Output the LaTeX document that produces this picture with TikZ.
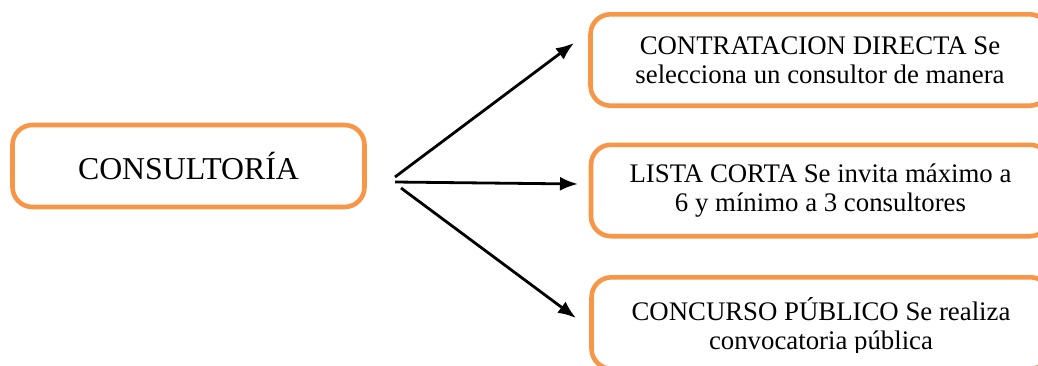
\documentclass[tikz,border=0pt]{standalone}
\usepackage{fontspec}
\setmainfont{Liberation Serif}
\usetikzlibrary{arrows.meta}
\definecolor{boxorange}{RGB}{247,150,70}
\tikzset{
  rbox/.style={draw=boxorange, line width=2.3pt, rounded corners=10pt, fill=white,
    inner sep=0pt, align=center},
  leftbox/.style={rbox, minimum width=176pt, minimum height=41pt,
    font=\fontsize{15.9pt}{18pt}\selectfont},
  rightbox/.style={rbox, minimum width=229.5pt, minimum height=45.7pt,
    font=\fontsize{13.4pt}{14.6pt}\selectfont},
  rtext/.style={inner sep=0pt, align=center, font=\fontsize{13.4pt}{14.6pt}\selectfont},
  conn/.style={line width=1.4pt, -{Latex[length=9pt,width=7pt]}}
}
\begin{document}
\begin{tikzpicture}[x=0.5pt, y=-0.5pt]
  \useasboundingbox (0,0) rectangle (1038,365);

  % source box
  \node[leftbox] (cons) at (188.5,166) {CONSULTORÍA};

  % the three procedures
  \node[rightbox] (c1) at (820,60) {CONTRATACION DIRECTA Se\\selecciona un consultor de manera};
  \node[rightbox] (c2) at (820.5,190.5) {LISTA CORTA Se invita máximo a\\6 y mínimo a 3 consultores};
  \node[rightbox] (c3) at (821,323) {};
  \begin{scope}
    \clip (560,260) rectangle (1038,352);
    \node[rtext] (c3t) at ([yshift=-1.5pt]c3.center) {CONCURSO PÚBLICO Se realiza\\convocatoria pública};
  \end{scope}

  % arrow ends
  \coordinate (s1) at (395,177);
  \coordinate (s2) at (395,182);
  \coordinate (s3) at (401,188);
  \coordinate (e1) at (574,43);
  \coordinate (e2) at (578,184);
  \coordinate (e3) at (576,318);

  \draw[conn] (s1) -- (e1);
  \draw[conn] (s2) -- (e2);
  \draw[conn] (s3) -- (e3);
\end{tikzpicture}
\end{document}
